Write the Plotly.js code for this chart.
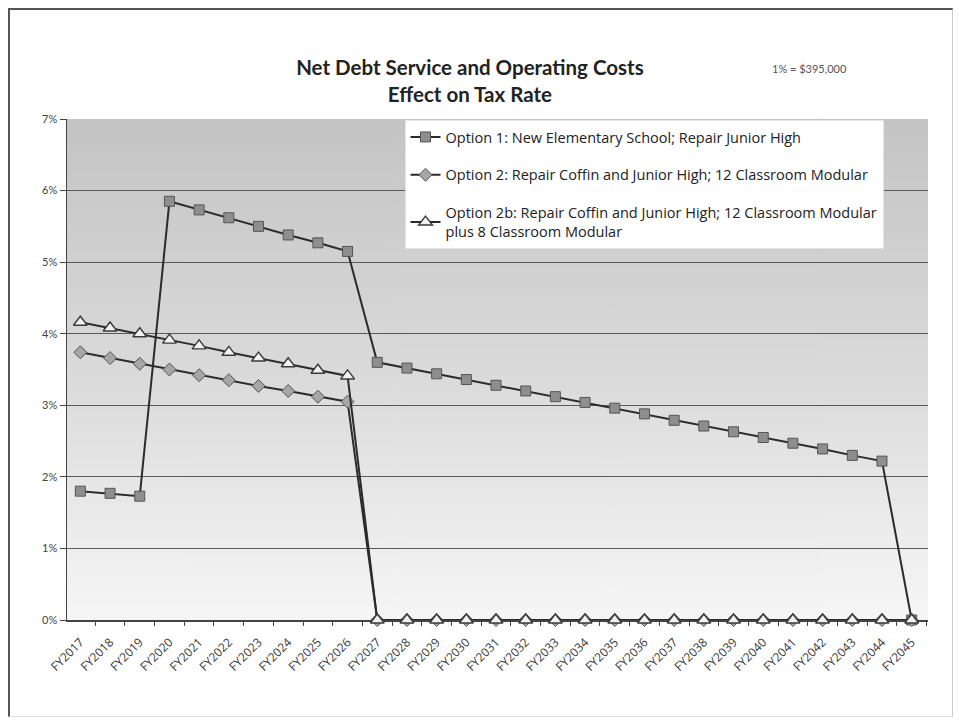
<!DOCTYPE html>
<html>
<head>
<meta charset="utf-8">
<script src="https://cdn.plot.ly/plotly-3.0.1.min.js"></script>
<style>
  html, body { margin: 0; padding: 0; background: #ffffff; }
  #wrap { position: relative; width: 959px; height: 727px; }
  #chart { width: 959px; height: 727px; }
  #frame { position: absolute; left: 8px; top: 8px; width: 945px; height: 709px;
           border-top: 2px solid #555; border-left: 2px solid #555; border-right: 1px solid #ccc;
           border-bottom: 1px solid #ddd; pointer-events: none; box-sizing: border-box; }
</style>
</head>
<body>
<div id="wrap"><div id="chart"></div><div id="frame"></div></div>
<script>
const years = ["FY2017","FY2018","FY2019","FY2020","FY2021","FY2022","FY2023","FY2024","FY2025","FY2026",
  "FY2027","FY2028","FY2029","FY2030","FY2031","FY2032","FY2033","FY2034","FY2035","FY2036",
  "FY2037","FY2038","FY2039","FY2040","FY2041","FY2042","FY2043","FY2044","FY2045"];

const option1 = [1.80,1.77,1.73,5.85,5.73,5.62,5.50,5.38,5.27,5.15,
  3.60,3.52,3.44,3.36,3.28,3.20,3.12,3.04,2.96,2.88,
  2.79,2.71,2.63,2.55,2.47,2.39,2.30,2.22,0.00];

const option2 = [3.74,3.66,3.58,3.50,3.42,3.35,3.27,3.20,3.12,3.05,
  0,0,0,0,0,0,0,0,0,0,0,0,0,0,0,0,0,0,0];

const option2b = [4.16,4.08,4.00,3.91,3.83,3.74,3.66,3.58,3.49,3.41,
  0,0,0,0,0,0,0,0,0,0,0,0,0,0,0,0,0,0,0];

const names = [
  "Option 1: New Elementary School; Repair Junior High",
  "Option 2: Repair Coffin and Junior High; 12 Classroom Modular",
  "Option 2b: Repair Coffin and Junior High; 12 Classroom Modular<br>plus 8 Classroom Modular"
];

const yTickVals = [0,1,2,3,4,5,6,7];
const yTickText = ["0%","1%","2%","3%","4%","5%","6%","7%"];

// gradient background image for plot area
const cv = document.createElement("canvas");
cv.width = 4; cv.height = 200;
const ctx = cv.getContext("2d");
const g = ctx.createLinearGradient(0,0,0,200);
g.addColorStop(0, "#c4c4c4");
g.addColorStop(0.5, "#dadada");
g.addColorStop(1, "#f6f6f6");
ctx.fillStyle = g; ctx.fillRect(0,0,4,200);
const bgURL = cv.toDataURL("image/png");

const lineCol = "#2b2b2b";
const traces = [
  {x: years, y: option1, name: names[0], type: "scatter", mode: "lines+markers", legendgroup: "a",
   cliponaxis: false,
   line: {color: lineCol, width: 2},
   marker: {symbol: "square", size: 10, color: "#8e8e8e", line: {color: "#555", width: 1}}},
  {x: years, y: option2, name: names[1], type: "scatter", mode: "lines+markers", legendgroup: "b",
   cliponaxis: false,
   line: {color: lineCol, width: 2},
   marker: {symbol: "diamond", size: 10, color: "#a6a6a6", line: {color: "#555", width: 1}}},
  {x: years, y: option2b, name: names[2], type: "scatter", mode: "lines+markers", legendgroup: "c",
   cliponaxis: false,
   line: {color: lineCol, width: 2},
   marker: {symbol: "triangle-up", size: 12, color: "#f2f2f2", line: {color: "#3a3a3a", width: 1.4}}}
];

const layout = {
  width: 959, height: 727,
  paper_bgcolor: "#ffffff",
  plot_bgcolor: "rgba(0,0,0,0)",
  margin: {l: 67, r: 31, t: 119, b: 107},
  font: {family: "Lato, 'Open Sans', sans-serif", color: "#333"},
  title: {
    text: "<b>Net Debt Service and Operating Costs</b><br><b>Effect on Tax Rate</b>",
    font: {size: 20.5, color: "#222", family: "Lato, 'Open Sans', sans-serif"},
    x: 0.49, xanchor: "center", y: 0.897, yanchor: "middle"
  },
  annotations: [{
    text: "1% = $395,000", xref: "paper", yref: "paper", x: 0.908, y: 1.10,
    xanchor: "right", yanchor: "middle", showarrow: false,
    font: {size: 11, color: "#555"}
  }],
  images: [{
    source: bgURL, xref: "paper", yref: "paper", x: 0, y: 1, sizex: 1, sizey: 1,
    sizing: "stretch", xanchor: "left", yanchor: "top", layer: "below"
  }],
  xaxis: {
    type: "category",
    categoryorder: "array", categoryarray: years,
    range: [-0.45, 28.55],
    tickangle: -45,
    tickfont: {size: 12, color: "#3a3a3a", family: "'Open Sans', Lato, sans-serif"},
    ticklabelstandoff: 9,
    showline: true, linecolor: "#444", linewidth: 1.5,
    ticks: "outside", tickson: "boundaries", ticklen: 4, tickcolor: "#444",
    showgrid: false, zeroline: false, layer: "below traces"
  },
  yaxis: {
    range: [0, 7],
    tickvals: yTickVals, ticktext: yTickText,
    tickfont: {size: 11, color: "#444"},
    showline: true, linecolor: "#444", linewidth: 1.5,
    ticks: "outside", ticklen: 6, tickcolor: "#444",
    showgrid: true, gridcolor: "#5a5a5a", gridwidth: 1,
    zeroline: false, layer: "below traces"
  },
  showlegend: true,
  legend: {
    x: 0.392, y: 0.998, xanchor: "left", yanchor: "top",
    bgcolor: "#ffffff", bordercolor: "#e4e4e4", borderwidth: 1,
    font: {size: 14.5, color: "#222", family: "'Open Sans', Lato, sans-serif"},
    traceorder: "grouped", tracegroupgap: 16,
    itemwidth: 30
  }
};

Plotly.newPlot("chart", traces, layout, {displayModeBar: false, staticPlot: true});
</script>
</body>
</html>
